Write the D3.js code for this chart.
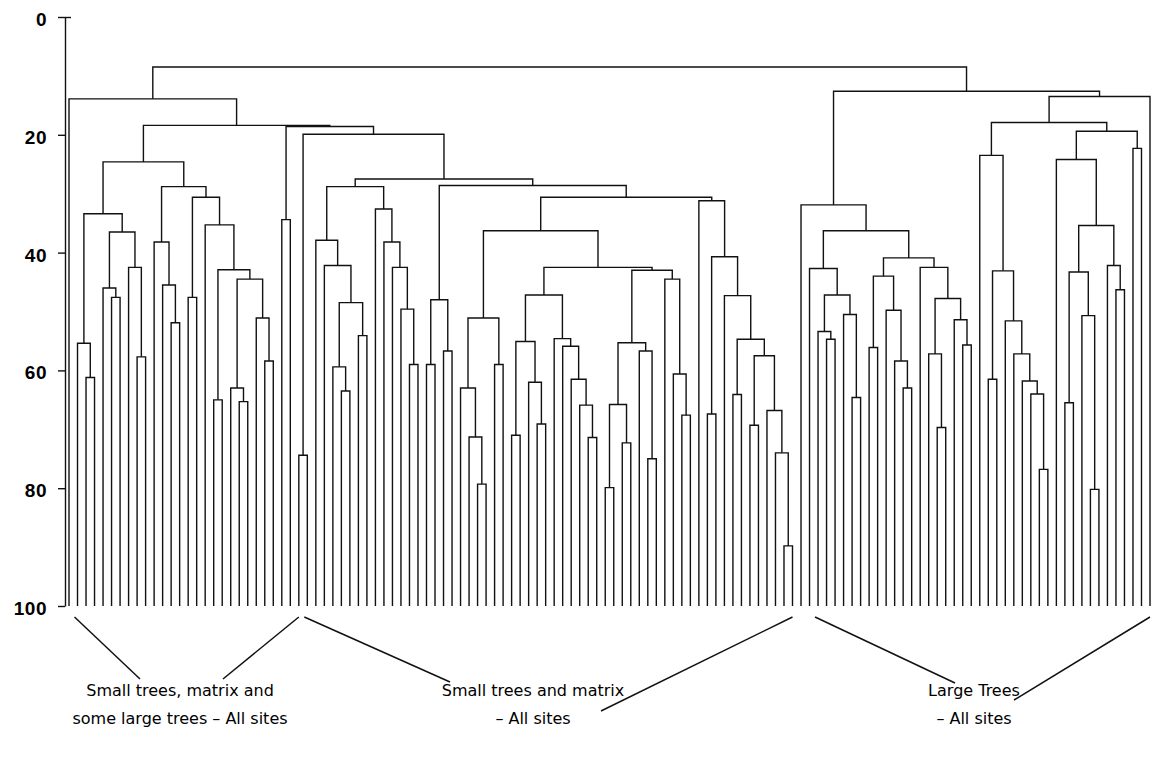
<!DOCTYPE html>
<html>
<head>
<meta charset="utf-8">
<script src="https://cdn.jsdelivr.net/npm/d3@7"></script>
<style>
  html, body { margin: 0; padding: 0; background: #fff; }
  svg { display: block; }
  .tick text { font-family: "Liberation Sans", Arial, sans-serif; font-weight: bold; font-size: 19px; letter-spacing: 0.5px; fill: #000; }
  .group-label { font-family: "DejaVu Sans", Verdana, sans-serif; font-size: 16px; fill: #000; }
</style>
</head>
<body>
<svg id="chart" width="1157" height="768"></svg>
<script>
// Dissimilarity axis ticks
const yTicks = [0, 20, 40, 60, 80, 100];
const yDomain = [0, 100];

// Cluster tree in a Newick-like form: "x" is a sample, "(a,b):h" joins two clusters at height h.
const clusterLeft =
  "(((x,(x,x):61.2):55.4,((x,(x,x):47.6):46,(x,(x,x):57.7):42.5):36.5):33.4," +
  "((x,(x,(x,x):51.9):45.5):38.2,((x,x):47.6,(x,((x,x):65,((x,(x,x):65.3):63,(x,(x,x):58.4):51.1):44.5):42.9):35.3):30.6):28.8):24.6";

const clusterMiddleA =
  "((x,(x,((x,(x,x):63.5):59.4,(x,x):54.1):48.5):42.2):37.9,(x,(x,(x,(x,(x,x):59):49.6):42.5):38.2):32.6):28.8";

const clusterMiddleB =
  "(((x,x):59,(x,x):56.7):48," +
  "((((x,(x,(x,x):79.3):71.3):63,(x,x):59):51.1," +
  "((((x,x):71,(x,(x,x):69.1):62):55.1,(x,(x,(x,(x,(x,x):71.4):65.9):61.5):55.9):54.6):47.2," +
  "((((x,x):79.9,(x,x):72.3):65.8,(x,(x,x):75):56.7):55.3,(x,(x,(x,x):67.6):60.6):44.5):43):42.5):36.3," +
  "(x,((x,x):67.4,(x,((x,x):64.1,((x,x):69.3,(x,(x,(x,x):89.8):74):66.8):57.5):54.7):47.3):40.7):31.2):30.6):28.6";

const clusterRightA =
  "(x,((x,((x,(x,x):54.7):53.4,(x,(x,x):64.6):50.5):47.2):42.7," +
  "(((x,x):56.1,(x,(x,(x,x):63):58.4):49.8):44,(x,((x,(x,x):69.7):57.2,(x,(x,x):55.7):51.4):47.8):42.5):40.9):36.3):31.9";

const clusterRightB =
  "(((x,((x,x):61.5,(x,(x,(x,(x,(x,x):76.8):64):61.8):57.2):51.6):43.1):23.5," +
  "((x,(((x,x):65.5,(x,(x,x):80.2):50.7):43.3,(x,(x,x):46.3):42.2):35.4):24.2,(x,x):22.3):19.4):17.9,x):13.5";

const tree =
  "((x,(" + clusterLeft + ",((x,x):34.4,((x,x):74.4,(" + clusterMiddleA + "," + clusterMiddleB + "):27.5):19.9):18.6):18.4):13.9," +
  "(" + clusterRightA + "," + clusterRightB + "):12.6):8.5";

// Bracketed groups under the leaves (first and last sample index of each bracket)
const groupNames = [
  ["Small trees, matrix and", "some large trees \u2013 All sites"],
  ["Small trees and matrix", "\u2013 All sites"],
  ["Large Trees", "\u2013 All sites"]
];
const groupFirstLeaf = [1, 28, 88];
const groupLastLeaf = [27, 85, 127];

// --- parse the Newick-like string into a nested object ---
function parseTree(s) {
  let i = 0;
  function node() {
    if (s[i] === "(") {
      i++;
      const a = node();
      i++; // ","
      const b = node();
      i++; // ")"
      i++; // ":"
      const j = i;
      while (i < s.length && /[0-9.]/.test(s[i])) i++;
      return { h: +s.slice(j, i), children: [a, b] };
    }
    i++;
    return { h: yDomain[1] };
  }
  return node();
}

const svg = d3.select("#chart");
const firstLeafX = 69, lastLeafX = 1150, plotTop = 17, plotBottom = 606, axisX = 65;

const y = d3.scaleLinear().domain(yDomain).range([plotTop, plotBottom]);

const root = d3.hierarchy(parseTree(tree));
const n = root.leaves().length;
// d3.cluster keeps half a slot free at each end; size it so the outer leaves land on the given x's
const width = (lastLeafX - firstLeafX) * n / (n - 1);
const xOffset = firstLeafX - width / (2 * n);
d3.cluster().size([width, 1]).separation(() => 1)(root);

const g = svg.append("g").attr("transform", `translate(${xOffset},0)`);

// elbow links: one bracket per merge
g.selectAll("path.merge")
  .data(root.descendants().filter(d => d.children))
  .join("path")
  .attr("class", "merge")
  .attr("fill", "none")
  .attr("stroke", "#111")
  .attr("stroke-width", 1.4)
  .attr("d", d => {
    const [a, b] = d.children;
    const yp = y(d.data.h);
    return `M${a.x},${y(a.data.h)}V${yp}H${b.x}V${y(b.data.h)}`;
  });

// y axis
const axis = d3.axisLeft(y).tickValues(yTicks).tickSize(7).tickSizeOuter(0).tickPadding(11);
const ag = svg.append("g").attr("transform", `translate(${axisX},0)`).call(axis);
ag.select(".domain").attr("stroke", "#111").attr("stroke-width", 1.4);
ag.selectAll(".tick line").attr("stroke", "#111").attr("stroke-width", 1.4);
ag.selectAll(".tick text").attr("dy", "0.45em");
// the zero tick crosses the axis line
ag.selectAll(".tick").filter(d => d === yDomain[0]).select("line").attr("x2", 6).attr("x1", -7);

// group brackets and captions
const leaves = root.leaves();
const lx = i => xOffset + leaves[i].x;
const bracketTop = 617;
const bracketEnds = [[140, 679, 223, 679], [450, 682, 601, 711], [955, 683, 1014, 700]];
const captionX = [180, 533, 974];

groupNames.forEach((lines, k) => {
  const [x1, y1, x2, y2] = bracketEnds[k];
  svg.append("line").attr("x1", lx(groupFirstLeaf[k]) - 3).attr("y1", bracketTop).attr("x2", x1).attr("y2", y1)
    .attr("stroke", "#111").attr("stroke-width", 1.5);
  svg.append("line").attr("x1", lx(groupLastLeaf[k])).attr("y1", bracketTop).attr("x2", x2).attr("y2", y2)
    .attr("stroke", "#111").attr("stroke-width", 1.5);
  lines.forEach((t, j) => {
    svg.append("text").attr("class", "group-label")
      .attr("x", captionX[k]).attr("y", 696 + j * 28)
      .attr("text-anchor", "middle").text(t);
  });
});
</script>
</body>
</html>
